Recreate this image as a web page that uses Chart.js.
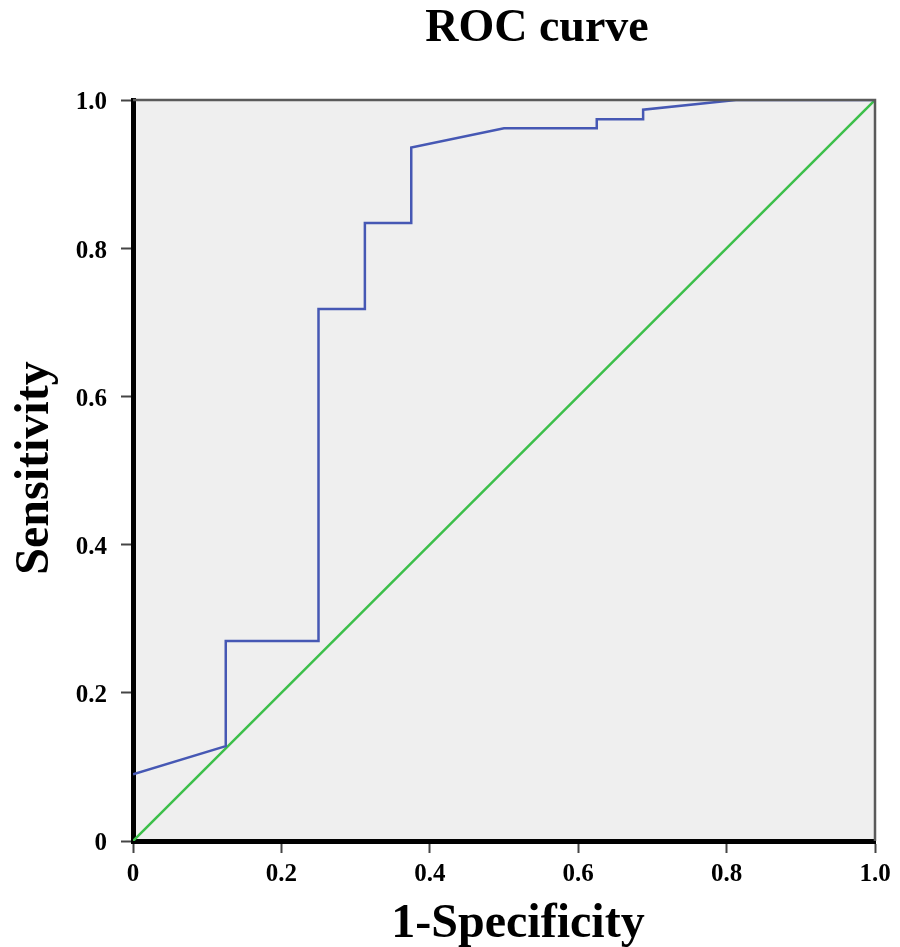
<!DOCTYPE html>
<html>
<head>
<meta charset="utf-8">
<title>ROC curve</title>
<script src="https://cdn.jsdelivr.net/npm/chart.js@4/dist/chart.umd.min.js"></script>
<style>
    html, body { margin: 0; padding: 0; background: #ffffff; }
    #wrap { width: 900px; height: 947px; }
</style>
</head>
<body>
<div id="wrap"><canvas id="rocChart" width="900" height="947"></canvas></div>
<script>
// ROC data (1-specificity, sensitivity)
const fpr = [0, 0.125, 0.125, 0.25, 0.25, 0.3125, 0.3125, 0.375, 0.375, 0.5, 0.625, 0.625, 0.6875, 0.6875, 0.8125, 1.0];
const tpr = [0.09, 0.128, 0.27, 0.27, 0.718, 0.718, 0.834, 0.834, 0.936, 0.962, 0.962, 0.974, 0.974, 0.987, 1.0, 1.0];
const refX = [0, 1];
const refY = [0, 1];
const tickValues = [0, 0.2, 0.4, 0.6, 0.8, 1.0];
const tickLabels = ['0', '0.2', '0.4', '0.6', '0.8', '1.0'];

const chartTitle = 'ROC curve';
const xTitle = '1-Specificity';
const yTitle = 'Sensitivity';

const SERIF = '"Liberation Serif", "Times New Roman", serif';

// Plot background, top/right frame and the text titles
const framePlugin = {
    id: 'frame',
    beforeDraw(chart) {
        const { ctx, chartArea: a } = chart;
        ctx.save();
        ctx.fillStyle = '#efefef';
        ctx.fillRect(a.left, a.top, a.right - a.left, a.bottom - a.top);
        ctx.restore();
    },
    afterDraw(chart) {
        const { ctx, chartArea: a } = chart;
        ctx.save();
        ctx.strokeStyle = '#5a5a5a';
        ctx.lineWidth = 2.5;
        ctx.beginPath();
        ctx.moveTo(a.left, a.top);
        ctx.lineTo(a.right, a.top);
        ctx.lineTo(a.right, a.bottom);
        ctx.stroke();

        ctx.fillStyle = '#000000';
        ctx.textAlign = 'center';
        ctx.textBaseline = 'alphabetic';
        ctx.font = 'bold 46px ' + SERIF;
        ctx.fillText(chartTitle, 537, 41);

        ctx.font = 'bold 48px ' + SERIF;
        ctx.fillText(xTitle, 518, 937);

        ctx.translate(48, 468);
        ctx.rotate(-Math.PI / 2);
        ctx.fillText(yTitle, 0, 0);
        ctx.restore();
    }
};

function axisOptions(fitKey, fitValue, padding, labelOffset) {
    return {
        type: 'linear',
        min: 0,
        max: 1,
        afterBuildTicks(scale) {
            scale.ticks = tickValues.map(v => ({ value: v }));
        },
        afterFit(scale) {
            scale[fitKey] = fitValue;
        },
        grid: {
            drawOnChartArea: false,
            drawTicks: true,
            tickLength: 12,
            tickWidth: 2,
            tickColor: '#444444'
        },
        border: {
            display: true,
            color: '#000000',
            width: 5
        },
        ticks: {
            padding: padding,
            labelOffset: labelOffset,
            color: '#000000',
            font: { family: SERIF, size: 25, weight: 'bold' },
            callback: function(value) {
                const i = tickValues.indexOf(value);
                return i >= 0 ? tickLabels[i] : '';
            }
        },
        title: { display: false }
    };
}

const ctx = document.getElementById('rocChart');

new Chart(ctx, {
    type: 'scatter',
    data: {
        datasets: [
            {
                label: 'ROC',
                data: fpr.map((x, i) => ({ x: x, y: tpr[i] })),
                showLine: true,
                borderColor: '#4658b4',
                borderWidth: 2.5,
                pointRadius: 0,
                tension: 0,
                order: 1
            },
            {
                label: 'Reference',
                data: refX.map((x, i) => ({ x: x, y: refY[i] })),
                showLine: true,
                borderColor: '#3cbf4a',
                borderWidth: 2.5,
                pointRadius: 0,
                order: 2
            }
        ]
    },
    options: {
        responsive: false,
        animation: false,
        layout: {
            padding: { top: 100, right: 25, bottom: 0, left: 0 }
        },
        plugins: {
            legend: { display: false },
            tooltip: { enabled: false },
            title: { display: false }
        },
        scales: {
            x: axisOptions('height', 106, 7, 0),
            y: axisOptions('width', 133, 14, 3)
        }
    },
    plugins: [framePlugin]
});
</script>
</body>
</html>
